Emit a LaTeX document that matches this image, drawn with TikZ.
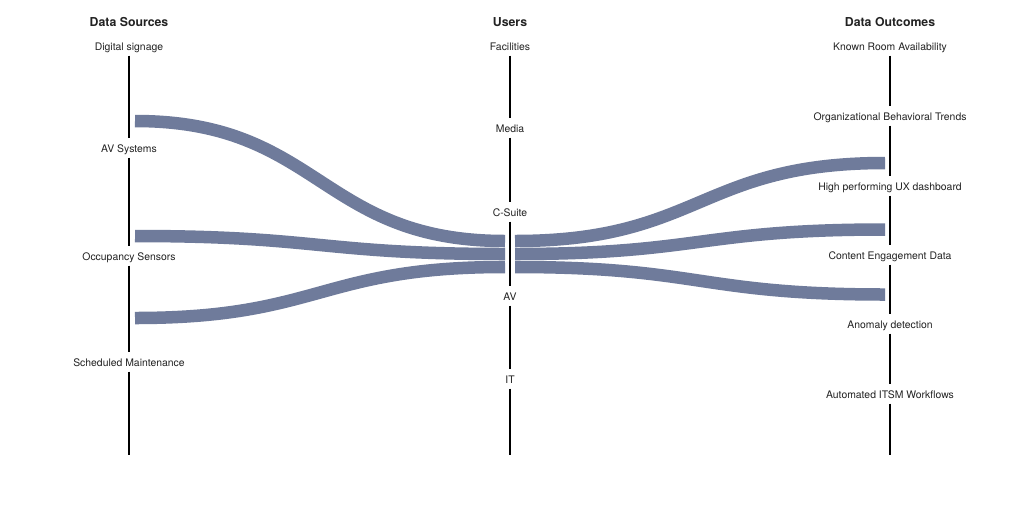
\documentclass[tikz,border=0pt]{standalone}
\usepackage{fontspec}
\setmainfont{TeX Gyre Heros}
\definecolor{flowc}{HTML}{6F7B9B}
\definecolor{txt}{HTML}{222222}
\begin{document}
\begin{tikzpicture}[x=1pt,y=-1pt,
  lbl/.style={text=txt, font=\fontsize{10.4}{12}\selectfont, inner xsep=0pt, inner ysep=4pt, text height=9.5pt, text depth=1.5pt},
  hdr/.style={text=txt, font=\bfseries\fontsize{12.3}{14}\selectfont, inner sep=0pt},
  axis/.style={line width=2.8pt, black},
  flow/.style={line width=12.5pt, flowc}]
\useasboundingbox[fill=white] (0,0) rectangle (1024,512);

% headers
\node[hdr] (h1) at (129,22) {Data Sources};
\node[hdr] (h2) at (510,22) {Users};
\node[hdr] (h3) at (890,22) {Data Outcomes};

% left column
\node[lbl] (s1) at (129,46) {Digital signage};
\node[lbl] (s2) at (129,148) {AV Systems};
\node[lbl] (s3) at (129,256) {Occupancy Sensors};
\node[lbl] (s4) at (129,362) {Scheduled Maintenance};
\coordinate (s5) at (129,455);
\draw[axis] (s1.south) -- (s2.north);
\draw[axis] (s2.south) -- (s3.north);
\draw[axis] (s3.south) -- (s4.north);
\draw[axis] (s4.south) -- (s5);

% middle column
\node[lbl] (u1) at (510,46) {Facilities};
\node[lbl] (u2) at (510,128) {Media};
\node[lbl] (u3) at (510,212) {C-Suite};
\node[lbl] (u4) at (510,296) {AV};
\node[lbl] (u5) at (510,379) {IT};
\coordinate (u6) at (510,455);
\draw[axis] (u1.south) -- (u2.north);
\draw[axis] (u2.south) -- (u3.north);
\draw[axis] (u3.south) -- (u4.north);
\draw[axis] (u4.south) -- (u5.north);
\draw[axis] (u5.south) -- (u6);

% right column
\node[lbl] (o1) at (890,46) {Known Room Availability};
\node[lbl] (o2) at (890,116) {Organizational Behavioral Trends};
\node[lbl] (o3) at (890,186) {High performing UX dashboard};
\node[lbl] (o4) at (890,255) {Content Engagement Data};
\node[lbl] (o5) at (890,324) {Anomaly detection};
\node[lbl] (o6) at (890,394) {Automated ITSM Workflows};
\coordinate (o7) at (890,455);
\draw[axis] (o1.south) -- (o2.north);
\draw[axis] (o2.south) -- (o3.north);
\draw[axis] (o3.south) -- (o4.north);
\draw[axis] (o4.south) -- (o5.north);
\draw[axis] (o5.south) -- (o6.north);
\draw[axis] (o6.south) -- (o7);

% flow ends
\coordinate (L1) at (135,121);
\coordinate (L2) at (135,236);
\coordinate (L3) at (135,318);
\coordinate (M1) at (505,241);
\coordinate (M2) at (505,254);
\coordinate (M3) at (505,267);
\coordinate (N1) at (515,241);
\coordinate (N2) at (515,254);
\coordinate (N3) at (515,267);
\coordinate (R1) at (885,163);
\coordinate (R2) at (885,229.5);
\coordinate (R3) at (885,294.5);

% flows
\draw[flow] (L1) .. controls (320,121) and (320,241) .. (M1);
\draw[flow] (L2) .. controls (320,236) and (320,254) .. (M2);
\draw[flow] (L3) .. controls (320,318) and (320,267) .. (M3);
\draw[flow] (N1) .. controls (700,241) and (700,163) .. (R1);
\draw[flow] (N2) .. controls (700,254) and (700,229.5) .. (R2);
\draw[flow] (N3) .. controls (700,267) and (700,294.5) .. (R3);
\end{tikzpicture}
\end{document}
